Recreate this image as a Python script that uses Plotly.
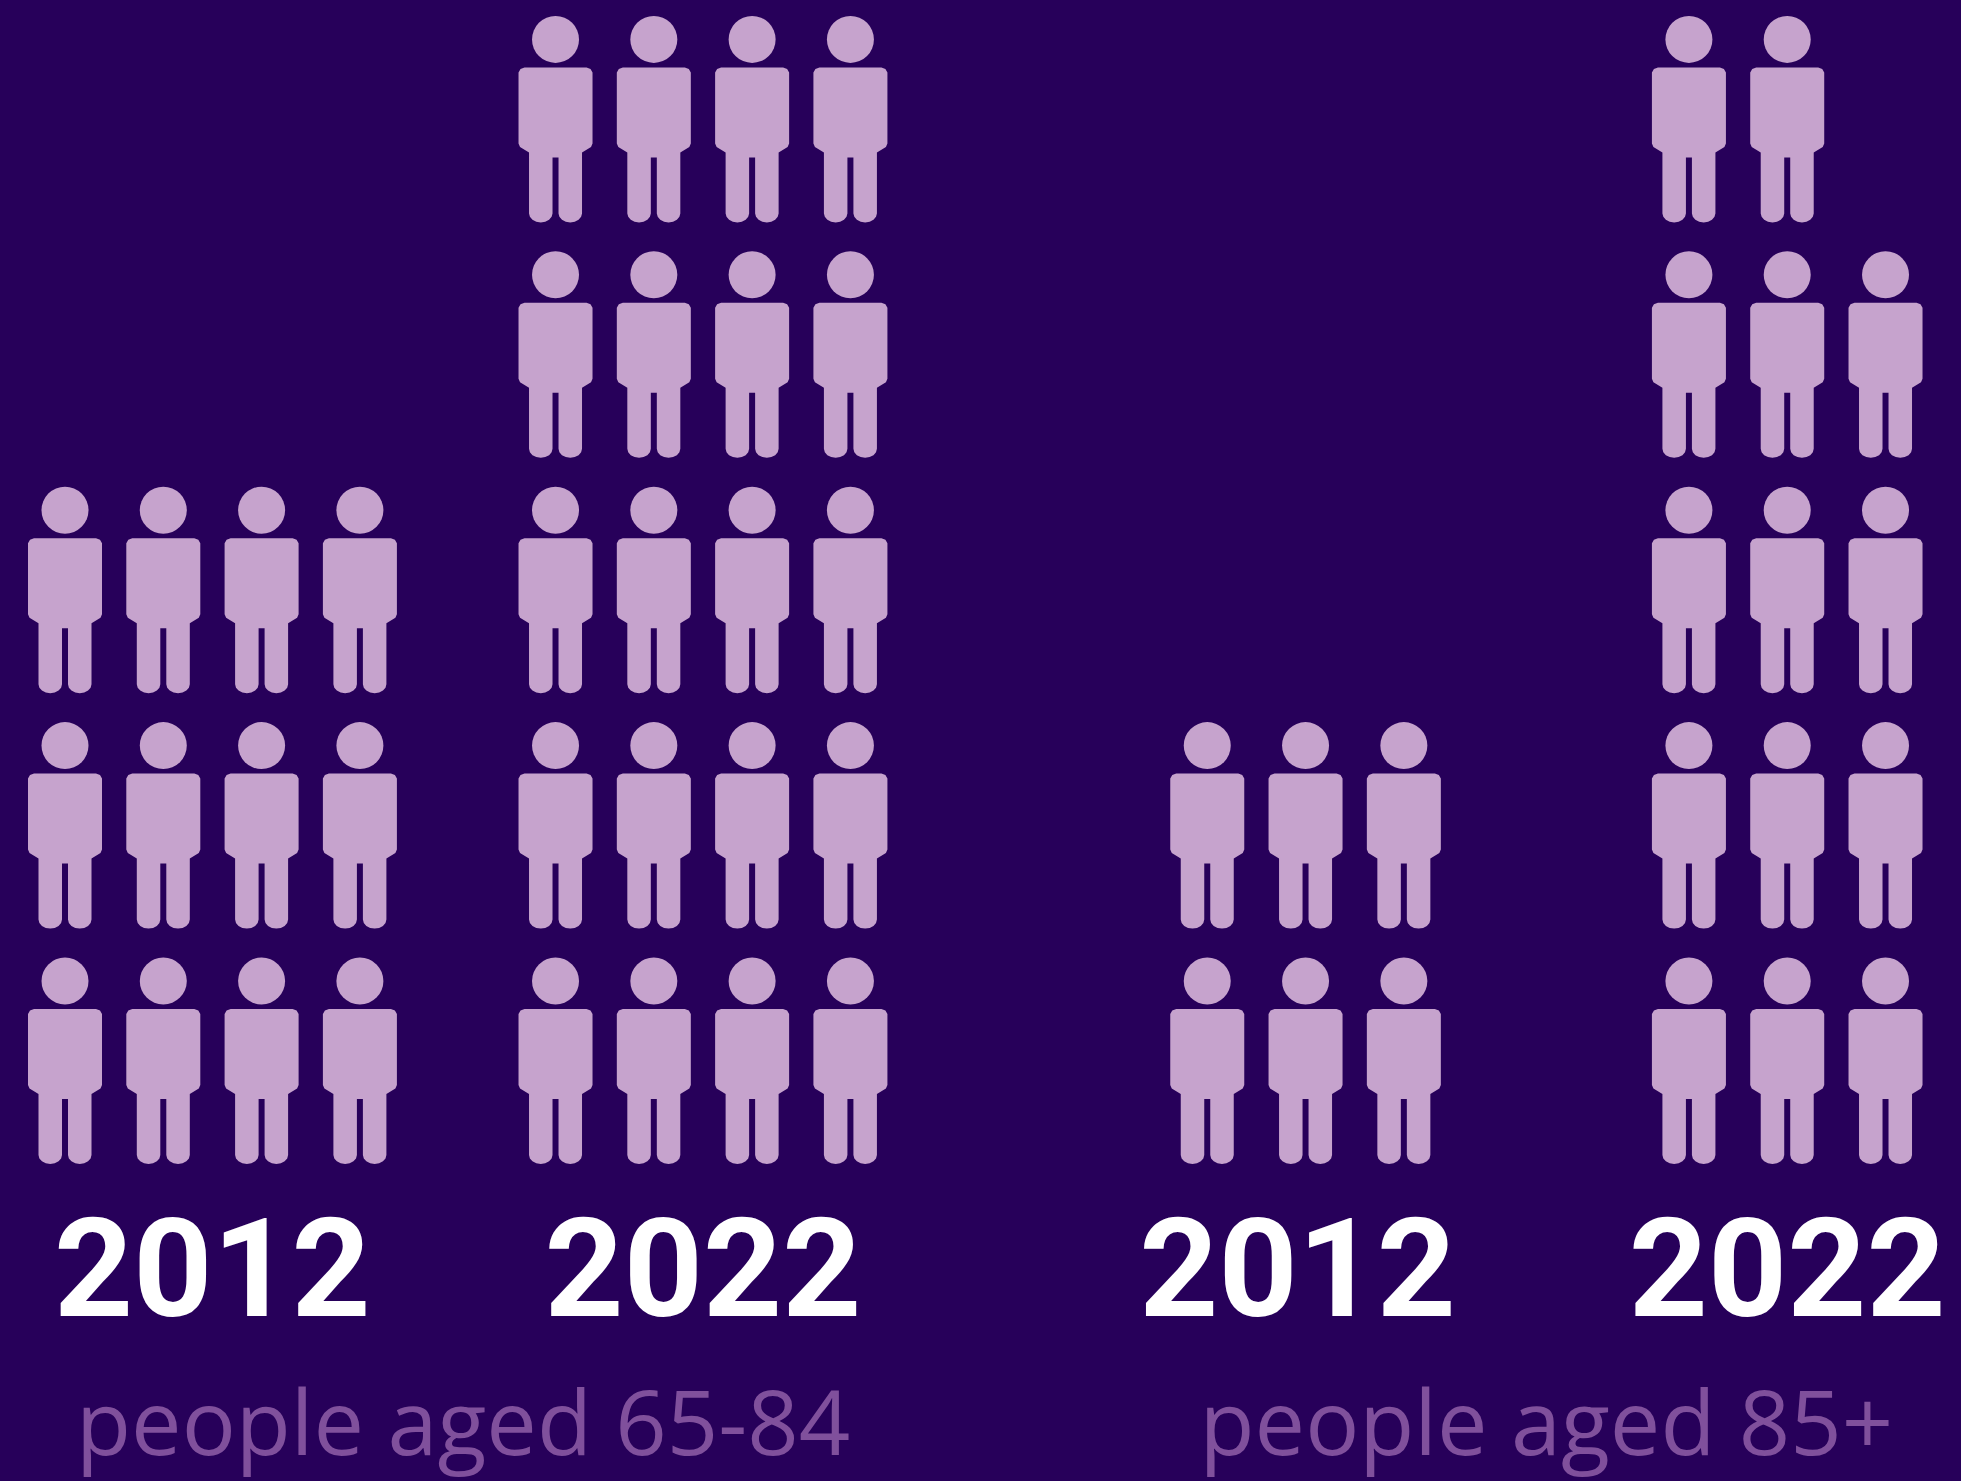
import numpy as np
import plotly.graph_objects as go

# Each icon stands for one unit; groups fill upward row by row.
years = ["2012", "2022", "2012", "2022"]
icon_counts = [12, 20, 6, 14]
columns_per_group = [4, 4, 3, 3]
age_labels = ["people aged 65-84", "people aged 85+"]

BG = "#27005A"
ICON = "#C6A3CD"
LABEL = "#80509C"
WIDTH, HEIGHT = 1961, 1481

# Axis units are icon slots: one column pitch across, one row pitch up.
COL_PX, ROW_PX = 98.3, 235.4
ORIGIN_X, ORIGIN_Y = 65.0, 981.0
group_start = [0.0, 4.99, 11.62, 16.52]
year_shift = [0.0, 0.0, -0.08, 0.0]
label_center = [4.05, 15.07]
YEAR_ROW = -1.275
LABEL_ROW = -1.92

# Outline of a figure without its head, in pixels from the head centre (y downwards).
def rounded_leg(x0, x1, top, bottom, r=9):
    t = np.linspace(np.pi, 0, 9)
    c = (x0 + x1) / 2
    rx = (x1 - x0) / 2
    arc = [(c + rx * np.cos(a), bottom - r + r * np.sin(a)) for a in t]
    return [(x0, top)] + arc + [(x1, top)]

body_outline = (
    [(-31, 28), (31, 28), (35, 29.5), (37, 33), (37, 104), (35.5, 107.5), (26.5, 113)]
    + rounded_leg(3, 26.5, 118, 183)[::-1]
    + rounded_leg(-26.5, -3, 118, 183)[::-1]
    + [(-26.5, 113), (-35.5, 107.5), (-37, 104), (-37, 33), (-35, 29.5), (-31, 28)]
)
body_px = np.array(body_outline)

fig = go.Figure()

for g, count in enumerate(icon_counts):
    cols = columns_per_group[g]
    col_idx = np.arange(count) % cols + group_start[g]
    row_idx = np.arange(count) // cols

    xs, ys = [], []
    for cx, cy in zip(col_idx, row_idx):
        xs += list(cx + body_px[:, 0] / COL_PX) + [None]
        ys += list(cy - body_px[:, 1] / ROW_PX) + [None]

    fig.add_trace(go.Scatter(
        x=xs, y=ys, mode="lines", fill="toself", fillcolor=ICON,
        line=dict(width=0, color=ICON), hoverinfo="skip", showlegend=False,
    ))
    fig.add_trace(go.Scatter(
        x=col_idx, y=row_idx, mode="markers",
        marker=dict(symbol="circle", size=47, color=ICON, line=dict(width=0)),
        name=years[g], showlegend=False,
    ))
    fig.add_trace(go.Scatter(
        x=[group_start[g] + (cols - 1) / 2 + year_shift[g]], y=[YEAR_ROW],
        mode="text", text=[years[g]], textposition="middle center",
        textfont=dict(family="Roboto", size=138, color="#FFFFFF", weight=700),
        hoverinfo="skip", showlegend=False,
    ))

fig.add_trace(go.Scatter(
    x=label_center, y=[LABEL_ROW] * 2, mode="text", text=age_labels,
    textposition="middle center",
    textfont=dict(family="Open Sans", size=90, color=LABEL, weight=400),
    hoverinfo="skip", showlegend=False,
))

fig.update_layout(
    width=WIDTH, height=HEIGHT,
    margin=dict(l=0, r=0, t=0, b=0),
    paper_bgcolor=BG, plot_bgcolor=BG,
    xaxis=dict(range=[-ORIGIN_X / COL_PX, (WIDTH - ORIGIN_X) / COL_PX], visible=False),
    yaxis=dict(range=[-(HEIGHT - ORIGIN_Y) / ROW_PX, ORIGIN_Y / ROW_PX], visible=False),
)
fig.write_html("out.html", config={"displayModeBar": False})
